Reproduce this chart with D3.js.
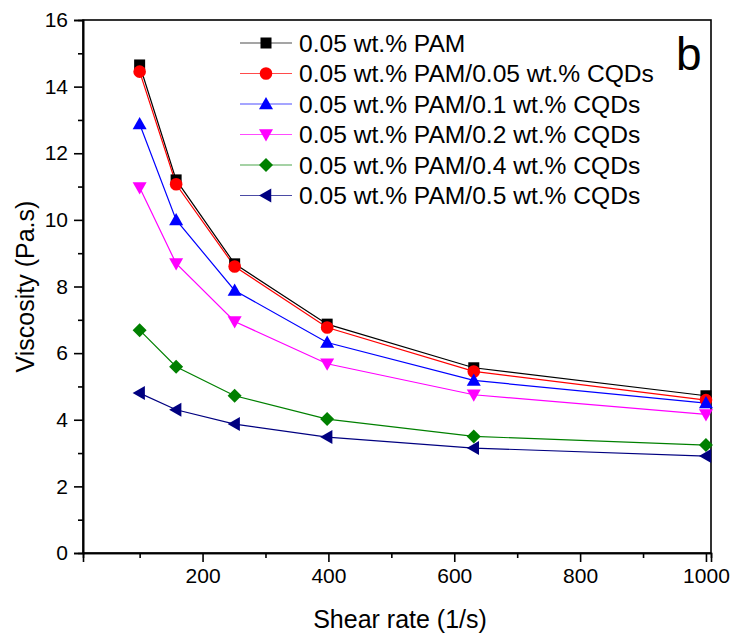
<!DOCTYPE html>
<html>
<head>
<meta charset="utf-8">
<script src="https://cdn.jsdelivr.net/npm/d3@7"></script>
<style>
  html, body { margin: 0; padding: 0; background: #fff; }
  svg { display: block; font-family: "Liberation Sans", Arial, sans-serif; }
</style>
</head>
<body>
<svg id="chart" width="732" height="642"></svg>
<script>
// ---- Data ----
const shearRates = [100, 158, 251, 398, 631, 1000];
const seriesNames = [
  "0.05 wt.% PAM",
  "0.05 wt.% PAM/0.05 wt.% CQDs",
  "0.05 wt.% PAM/0.1 wt.% CQDs",
  "0.05 wt.% PAM/0.2 wt.% CQDs",
  "0.05 wt.% PAM/0.4 wt.% CQDs",
  "0.05 wt.% PAM/0.5 wt.% CQDs"
];
const pam        = [14.65, 11.2, 8.68, 6.87, 5.56, 4.72];
const cqd005     = [14.45, 11.07, 8.6, 6.77, 5.45, 4.59];
const cqd01      = [12.88, 10.0, 7.88, 6.32, 5.18, 4.5];
const cqd02      = [10.97, 8.69, 6.95, 5.68, 4.75, 4.16];
const cqd04      = [6.69, 5.59, 4.72, 4.02, 3.5, 3.24];
const cqd05      = [4.8, 4.3, 3.87, 3.48, 3.15, 2.91];
const seriesValues = [pam, cqd005, cqd01, cqd02, cqd04, cqd05];
const seriesColors = ["#000000", "#ff0000", "#0000ff", "#ff00ff", "#008000", "#000080"];
const seriesSymbols = ["square", "circle", "triUp", "triDown", "diamond", "triLeft"];
const xMajorTicks = [200, 400, 600, 800, 1000];
const xMinorTicks = [100, 300, 500, 700, 900];
const yMajorTicks = [0, 2, 4, 6, 8, 10, 12, 14, 16];
const yMinorTicks = [1, 3, 5, 7, 9, 11, 13, 15];
const xTitle = "Shear rate (1/s)";
const yTitle = "Viscosity (Pa.s)";
const panelLabel = "b";

// ---- Layout ----
const L = 83, R = 711, T = 20, B = 553;
const svg = d3.select("#chart");
const x = d3.scaleLinear().domain([10, 1008]).range([L, R]);
const y = d3.scaleLinear().domain([0, 16]).range([B, T]);

// frame
svg.append("rect").attr("x", L).attr("y", T).attr("width", R - L).attr("height", B - T)
  .attr("fill", "none").attr("stroke", "#000").attr("stroke-width", 1.6);

// axes
const xAxis = svg.append("g").attr("transform", `translate(0,${B})`)
  .call(d3.axisBottom(x).tickValues(xMajorTicks).tickSize(9).tickPadding(6).tickFormat(d3.format("d")));
const xAxisMinor = svg.append("g").attr("transform", `translate(0,${B})`)
  .call(d3.axisBottom(x).tickValues(xMinorTicks).tickSize(5).tickFormat(""));
const yAxis = svg.append("g").attr("transform", `translate(${L},0)`)
  .call(d3.axisLeft(y).tickValues(yMajorTicks).tickSize(9).tickPadding(6).tickFormat(d3.format("d")));
const yAxisMinor = svg.append("g").attr("transform", `translate(${L},0)`)
  .call(d3.axisLeft(y).tickValues(yMinorTicks).tickSize(5).tickFormat(""));
[xAxis, xAxisMinor, yAxis, yAxisMinor].forEach(g => {
  g.select(".domain").attr("stroke", "#000").attr("stroke-width", 1.6);
  g.selectAll(".tick line").attr("stroke", "#000").attr("stroke-width", 1.6);
  g.selectAll(".tick text").attr("fill", "#000").style("font-size", "21px")
    .style("font-family", '"Liberation Sans", Arial, sans-serif');
});

// titles
svg.append("text").attr("x", (L + R) / 2 + 3).attr("y", 628).attr("text-anchor", "middle")
  .style("font-size", "25px").text(xTitle);
svg.append("text").attr("transform", `translate(34,${(T + B) / 2}) rotate(-90)`)
  .attr("text-anchor", "middle").style("font-size", "25px").text(yTitle);
svg.append("text").attr("x", 676).attr("y", 70).style("font-size", "46px").text(panelLabel);

// symbols
function drawSymbol(g, type, color, cx, cy) {
  const s = 7;
  if (type === "square") {
    g.append("rect").attr("x", cx - 5.5).attr("y", cy - 5.5).attr("width", 11).attr("height", 11).attr("fill", color);
  } else if (type === "circle") {
    g.append("circle").attr("cx", cx).attr("cy", cy).attr("r", 6.3).attr("fill", color);
  } else {
    let pts;
    if (type === "triUp") pts = [[0, -s], [s, s * 0.75], [-s, s * 0.75]];
    else if (type === "triDown") pts = [[0, s], [s, -s * 0.75], [-s, -s * 0.75]];
    else if (type === "triLeft") pts = [[-s, 0], [s * 0.75, -s], [s * 0.75, s]];
    else pts = [[0, -s], [s, 0], [0, s], [-s, 0]];
    g.append("polygon").attr("points", pts.map(p => [cx + p[0], cy + p[1]].join(",")).join(" ")).attr("fill", color);
  }
}

const line = d3.line().x(d => x(d[0])).y(d => y(d[1]));
const plot = svg.append("g");
seriesValues.forEach((vals, i) => {
  const data = shearRates.map((r, j) => [r, vals[j]]);
  plot.append("path").datum(data).attr("d", line).attr("fill", "none")
    .attr("stroke", seriesColors[i]).attr("stroke-width", 1.2);
});
seriesValues.forEach((vals, i) => {
  const g = plot.append("g");
  shearRates.forEach((r, j) => drawSymbol(g, seriesSymbols[i], seriesColors[i], x(r), y(vals[j])));
});

// legend
const leg = svg.append("g");
seriesNames.forEach((name, i) => {
  const cy = 43 + i * 30.5;
  leg.append("line").attr("x1", 240).attr("x2", 292).attr("y1", cy).attr("y2", cy)
    .attr("stroke", seriesColors[i]).attr("stroke-width", 1.2).attr("opacity", 0.7);
  drawSymbol(leg, seriesSymbols[i], seriesColors[i], 266, cy);
  leg.append("text").attr("x", 299).attr("y", cy + 8.5).style("font-size", "24.6px").text(name);
});
</script>
</body>
</html>
